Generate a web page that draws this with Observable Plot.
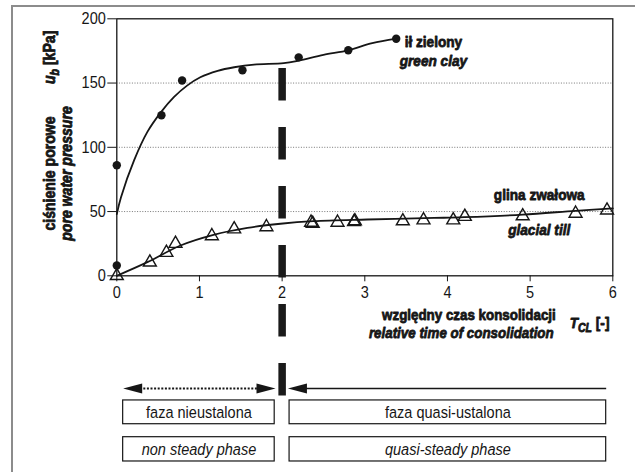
<!DOCTYPE html>
<html><head><meta charset="utf-8">
<script src="https://cdn.jsdelivr.net/npm/d3@7"></script>
<script src="https://cdn.jsdelivr.net/npm/@observablehq/plot@0.6"></script>
<style>
body{margin:0;background:#fff;}
#wrap{position:relative;width:635px;height:472px;overflow:hidden;background:#fff;}
#border{position:absolute;left:11px;top:5px;width:700px;height:600px;border-left:2px solid #8c8c8c;border-top:2px solid #8c8c8c;}
#chart{position:absolute;left:0;top:0;}
</style></head><body>
<div id="wrap"><div id="border"></div><div id="chart"></div></div>
<script>
const FONT = "'Liberation Sans Narrow','Arial Narrow','Liberation Sans',Arial,sans-serif";
const CONDENSE = 0.88;
const INK = "#161616";

// ---- data: green clay (ił zielony) measured points
const clayT = [0, 0, 0.54, 0.79, 1.52, 2.2, 2.8, 3.38];
const clayU = [86, 8, 125, 152, 160, 170, 175.5, 184.5];
// fitted trend for green clay
const clayFitT = [0, 0.05, 0.21, 0.37, 0.53, 0.69, 0.85, 1.01, 1.22, 1.42, 1.66, 2.02, 2.2, 2.5, 2.8, 3.09, 3.38];
const clayFitU = [48, 61, 90, 112, 127, 139, 148, 154.5, 159.5, 162.3, 164.4, 165.5, 167.5, 172, 175.5, 181, 184.5];

// ---- data: glacial till (glina zwałowa) measured points
const tillT = [0, 0.40, 0.60, 0.71, 1.15, 1.42, 1.81, 2.35, 2.37, 2.67, 2.87, 2.88, 3.46, 3.71, 4.07, 4.21, 4.91, 5.55, 5.93];
const tillU = [0, 10.5, 18, 25, 31, 36.3, 38, 41.5, 40.7, 41.5, 42, 42.6, 42.6, 43.3, 43.3, 46, 46.5, 48.5, 51];
// fitted trend for glacial till
const tillFitT = [0, 0.37, 0.77, 1.17, 1.58, 1.98, 2.38, 3.03, 3.84, 4.2, 4.91, 5.55, 6];
const tillFitU = [0, 10.6, 23.6, 31.9, 37.3, 40.5, 42.5, 43.8, 45, 45.6, 47.6, 50.6, 52.5];

// ---- ticks
const xTicks = [0, 1, 2, 3, 4, 5, 6];
const yTicks = [0, 50, 100, 150, 200];
const yGrid = [50, 100, 150];

// ---- texts
const clayName = ["ił zielony", "green clay"];
const tillName = ["glina zwałowa", "glacial till"];
const yLabelLines = ["ciśnienie porowe", "pore water pressure"];
const yUnitParts = ["u", "b", " [kPa]"];
const xLabelLines = ["względny czas konsolidacji", "relative time of consolidation"];
const xSymbolParts = ["T", "CL", " [-]"];
const phaseNamesPL = ["faza nieustalona", "faza quasi-ustalona"];
const phaseNamesEN = ["non steady phase", "quasi-steady phase"];

// ---- phase division
const phaseBoundary = 2;
const phaseStart = [0.077, 2.09];
const phaseEnd = [1.91, 5.92];

// ---- layout (annotation positions in chart units)
const dividerTop = 161.3, dividerBottom = -93.5;
const arrowY = -87.7;
const rowPL = [-97, -115.5], rowEN = [-125.6, -144.5];

const clay = clayT.map((t, i) => ({t, u: clayU[i]}));
const clayFit = clayFitT.map((t, i) => ({t, u: clayFitU[i]}));
const till = tillT.map((t, i) => ({t, u: tillU[i]}));
const tillFit = tillFitT.map((t, i) => ({t, u: tillFitU[i]}));

const boxes = [];
for (let i = 0; i < 2; i++) {
  boxes.push({x1: phaseStart[i], x2: phaseEnd[i], y1: rowPL[0], y2: rowPL[1], label: phaseNamesPL[i], italic: false});
  boxes.push({x1: phaseStart[i], x2: phaseEnd[i], y1: rowEN[0], y2: rowEN[1], label: phaseNamesEN[i], italic: true});
}
const shafts = [
  {x1: phaseStart[0] + 0.2, x2: phaseEnd[0] + 0.01 - 0.2, dash: "2,1.6", w: 2},
  {x1: phaseStart[1] - 0.01 + 0.2, x2: phaseEnd[1], dash: null, w: 1.6}
];
const headsLeft = [{x: phaseStart[0]}, {x: phaseStart[1] - 0.02}];
const headsRight = [{x: phaseEnd[0] + 0.01}];

const headL = {draw(ctx) { ctx.moveTo(0, 0); ctx.lineTo(19, -5); ctx.lineTo(19, 5); ctx.closePath(); }};
const headR = {draw(ctx) { ctx.moveTo(0, 0); ctx.lineTo(-19, -5); ctx.lineTo(-19, 5); ctx.closePath(); }};

const bold = {fontWeight: "bold", fill: INK, stroke: INK, strokeWidth: 0.8};

const plot = Plot.plot({
  width: 635, height: 472,
  marginLeft: 116.3, marginRight: 22.7, marginTop: 18.3, marginBottom: 196.7,
  style: {fontFamily: FONT, fontSize: "16px", color: INK, background: "transparent", overflow: "visible"},
  x: {domain: [0, 6]},
  y: {domain: [0, 200]},
  marks: [
    Plot.gridY(yGrid, {stroke: "#777", strokeOpacity: 1, strokeDasharray: "1,1.6", strokeWidth: 1}),
    Plot.axisX(xTicks, {tickSize: 6, tickPadding: 4, label: null, fontSize: 16.5, stroke: INK}),
    Plot.axisY(yTicks, {tickSize: 9, tickPadding: 2, label: null, fontSize: 16.5, stroke: INK}),
    Plot.frame({stroke: INK, strokeWidth: 1.3}),
    Plot.line(clayFit, {x: "t", y: "u", curve: "catmull-rom", stroke: INK, strokeWidth: 1.8}),
    Plot.line(tillFit, {x: "t", y: "u", curve: "catmull-rom", stroke: INK, strokeWidth: 1.8}),
    Plot.dot(clay, {x: "t", y: "u", r: 4.2, fill: INK, stroke: "none"}),
    Plot.dot(till, {x: "t", y: "u", symbol: "triangle", r: 4.8, fill: "none", stroke: INK, strokeWidth: 1.4}),
    Plot.ruleX([{x: phaseBoundary, y1: dividerTop, y2: dividerBottom}], {x: "x", y1: "y1", y2: "y2", stroke: "#1a1a1a", strokeWidth: 7.5, strokeDasharray: "32.5,26.5"}),
    // series labels
    Plot.text([{x: 3.83, y: 181.8, s: clayName[0]}], {x: "x", y: "y", text: "s", fontSize: 15.5, ...bold}),
    Plot.text([{x: 3.83, y: 167.5, s: clayName[1]}], {x: "x", y: "y", text: "s", fontStyle: "italic", fontSize: 15.5, ...bold}),
    Plot.text([{x: 5.11, y: 62.5, s: tillName[0]}], {x: "x", y: "y", text: "s", fontSize: 15.5, ...bold}),
    Plot.text([{x: 5.11, y: 35.3, s: tillName[1]}], {x: "x", y: "y", text: "s", fontStyle: "italic", fontSize: 15.5, ...bold}),
    // y axis label
    Plot.text([{x: -0.81, y: 79.6, s: yLabelLines[0]}], {x: "x", y: "y", text: "s", rotate: -90, fontSize: 16, ...bold}),
    Plot.text([{x: -0.605, y: 79.6, s: yLabelLines[1]}], {x: "x", y: "y", text: "s", rotate: -90, fontStyle: "italic", fontSize: 16, ...bold}),
    Plot.text([{x: -0.81, y: 170, s: yUnitParts.join("")}], {x: "x", y: "y", text: "s", rotate: -90, fontSize: 16, ...bold}),
    // x axis label
    Plot.text([{x: 5.31, y: -30.9, s: xLabelLines[0]}], {x: "x", y: "y", text: "s", textAnchor: "end", fontSize: 15.2, ...bold}),
    Plot.text([{x: 5.285, y: -44.9, s: xLabelLines[1]}], {x: "x", y: "y", text: "s", textAnchor: "end", fontStyle: "italic", fontSize: 15.2, ...bold}),
    Plot.text([{x: 5.478, y: -36.4, s: xSymbolParts.join("")}], {x: "x", y: "y", text: "s", textAnchor: "start", fontSize: 15.5, ...bold}),
    // phase boxes
    Plot.rect(boxes, {x1: "x1", x2: "x2", y1: "y1", y2: "y2", fill: "white", stroke: INK, strokeWidth: 1.2}),
    Plot.text(boxes.filter(d => !d.italic), {x: d => (d.x1 + d.x2) / 2, y: d => (d.y1 + d.y2) / 2, text: "label", fontSize: 16.5, fill: INK}),
    Plot.text(boxes.filter(d => d.italic), {x: d => (d.x1 + d.x2) / 2, y: d => (d.y1 + d.y2) / 2, text: "label", fontSize: 16.5, fontStyle: "italic", fill: INK}),
    // arrows
    Plot.link(shafts.filter(d => d.dash), {x1: "x1", x2: "x2", y1: () => arrowY, y2: () => arrowY, stroke: INK, strokeWidth: 2, strokeDasharray: "2,1.6"}),
    Plot.link(shafts.filter(d => !d.dash), {x1: "x1", x2: "x2", y1: () => arrowY, y2: () => arrowY, stroke: INK, strokeWidth: 1.6}),
    Plot.dot(headsLeft, {x: "x", y: () => arrowY, symbol: headL, fill: INK, stroke: "none"}),
    Plot.dot(headsRight, {x: "x", y: () => arrowY, symbol: headR, fill: INK, stroke: "none"})
  ]
});

// rich text: italic symbol with subscript
function richify(svg, parts, opts) {
  d3.select(svg).selectAll("text").each(function () {
    if (this.textContent !== parts.join("")) return;
    const t = d3.select(this);
    t.text(null);
    t.append("tspan").text(parts[0]).attr("font-style", "italic");
    t.append("tspan").text(parts[1]).attr("font-style", "italic").attr("font-size", opts.subSize).attr("dy", opts.shift);
    t.append("tspan").text(parts[2]).attr("dy", -opts.shift);
  });
}
richify(plot, yUnitParts, {subSize: 12, shift: 4});
richify(plot, xSymbolParts, {subSize: 12, shift: 4});

// emulate a condensed typeface (narrow fonts are not installed):
// squeeze every text along its own direction about its anchor point
d3.select(plot).selectAll("text").each(function () {
  const t = this.getAttribute("transform") || "";
  const xa = parseFloat(this.getAttribute("x"));
  const x = Number.isFinite(xa) && !/[a-z%]/i.test(this.getAttribute("x")) ? xa : 0;
  this.setAttribute("transform", `${t} translate(${x},0) scale(${CONDENSE},1) translate(${-x},0)`.trim());
});

document.getElementById("chart").appendChild(plot);
</script>
</body></html>
